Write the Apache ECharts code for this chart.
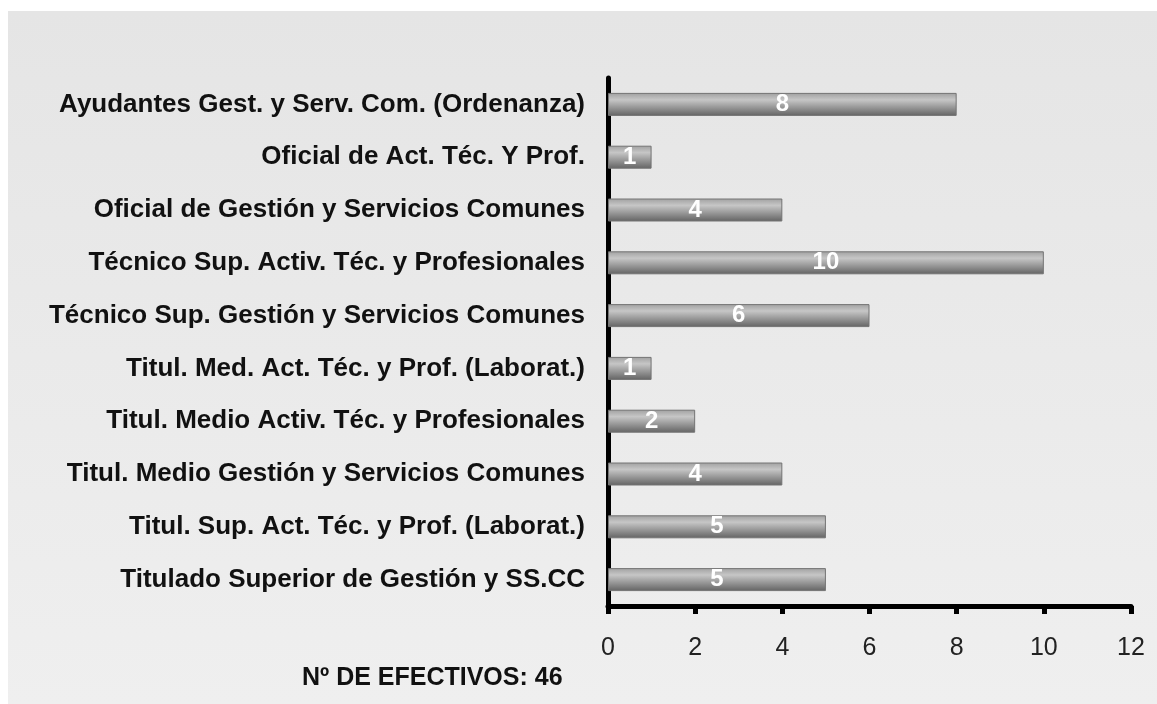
<!DOCTYPE html>
<html>
<head>
<meta charset="utf-8">
<script src="https://cdn.jsdelivr.net/npm/echarts@6/dist/echarts.min.js"></script>
<style>
html, body { margin: 0; padding: 0; background: #ffffff; }
#chart { width: 1157px; height: 704px; }
</style>
</head>
<body>
<div id="chart"></div>
<script>
// categorias (de arriba a abajo)
var categories = [
  "Ayudantes Gest. y Serv. Com. (Ordenanza)",
  "Oficial de Act. Téc. Y Prof.",
  "Oficial de Gestión y Servicios Comunes",
  "Técnico Sup. Activ. Téc. y Profesionales",
  "Técnico Sup. Gestión y Servicios Comunes",
  "Titul. Med. Act. Téc. y Prof. (Laborat.)",
  "Titul. Medio Activ. Téc. y Profesionales",
  "Titul. Medio Gestión y Servicios Comunes",
  "Titul. Sup. Act. Téc. y Prof. (Laborat.)",
  "Titulado Superior de Gestión y SS.CC"
];
var efectivos = [8, 1, 4, 10, 6, 1, 2, 4, 5, 5];
var footerText = "Nº DE EFECTIVOS: 46";

var chart = echarts.init(document.getElementById("chart"));
chart.setOption({
  animation: false,
  graphic: [
    {
      type: "rect",
      z: -10,
      shape: { x: 8, y: 11, width: 1149, height: 693 },
      style: {
        fill: new echarts.graphic.LinearGradient(0, 0, 0, 1, [
          { offset: 0, color: "#e5e5e5" },
          { offset: 1, color: "#efefef" }
        ])
      }
    },
    {
      type: "text",
      left: 302,
      top: 666,
      style: {
        text: footerText,
        font: "bold 25px 'Liberation Sans', Arial, sans-serif",
        fill: "#111"
      }
    }
  ],
  grid: { left: 608, right: 26, top: 78, bottom: 98 },
  xAxis: {
    type: "value",
    min: 0,
    max: 12,
    interval: 2,
    axisLine: { show: true, lineStyle: { color: "#000", width: 5 } },
    axisTick: { show: true, length: 8, lineStyle: { color: "#000", width: 5 } },
    splitLine: { show: false },
    axisLabel: {
      color: "#222",
      fontSize: 25,
      fontFamily: "Liberation Sans, Arial, sans-serif",
      margin: 30
    }
  },
  yAxis: {
    type: "category",
    inverse: true,
    data: categories,
    axisLine: { show: true, lineStyle: { color: "#000", width: 5 } },
    axisTick: { show: false },
    axisLabel: {
      color: "#111",
      fontSize: 26,
      fontWeight: "bold",
      fontFamily: "Liberation Sans, Arial, sans-serif",
      margin: 23
    }
  },
  series: [
    {
      type: "bar",
      data: efectivos,
      barWidth: 23,
      itemStyle: {
        borderColor: "#747474",
        borderWidth: 1,
        color: new echarts.graphic.LinearGradient(0, 0, 0, 1, [
          { offset: 0, color: "#a0a0a0" },
          { offset: 0.3, color: "#c6c6c6" },
          { offset: 1, color: "#636363" }
        ])
      },
      label: {
        show: true,
        position: "inside",
        color: "#fff",
        fontSize: 24,
        fontWeight: "bold",
        fontFamily: "Liberation Sans, Arial, sans-serif"
      }
    }
  ]
});
</script>
</body>
</html>
